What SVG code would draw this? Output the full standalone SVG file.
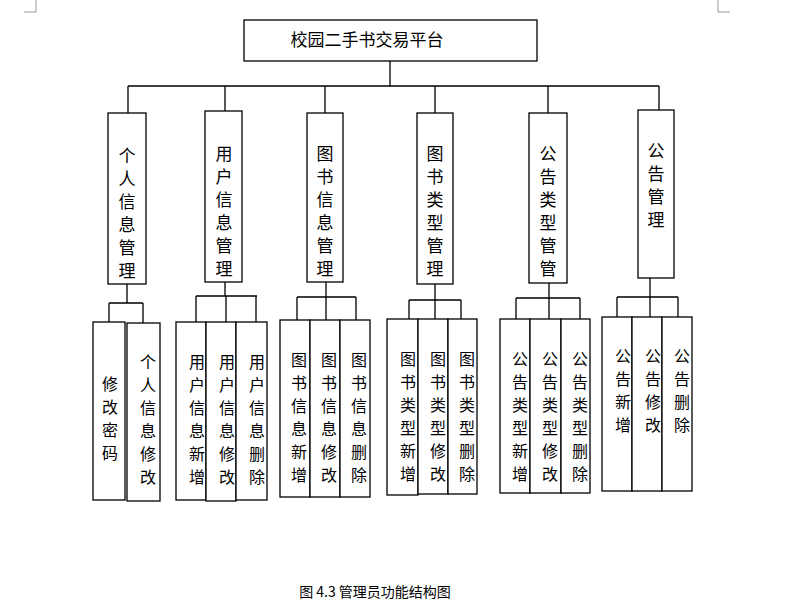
<svg xmlns="http://www.w3.org/2000/svg" width="803" height="615" viewBox="0 0 803 615">
<style>
rect{fill:#fff;stroke:#000;stroke-width:1.3}
line,path{stroke:#000;stroke-width:1.3;fill:none}
text{font-family:"Noto Sans CJK SC","Liberation Serif",serif;font-size:17px;fill:#000;text-anchor:middle}
.s{font-size:16px}
</style>
<rect width="803" height="615" style="stroke:none"/>
<g id="corners"><path d="M36 0V12H24 M718 0V12H730" style="stroke:#999;stroke-width:1"/></g>
<g id="connectors">
<path d="M390 61V86 M128 86H659 M128 86V113 M225 86V111 M325 86V113 M435 86V113 M548 86V113 M659 86V110"/>
<path d="M127 284V303 M109 303H143 M109 303V322 M143 303V323"/>
<path d="M225 282V296 M196 296H257 M196 296V322 M226 296V322 M256 296V322"/>
<path d="M326 282V297 M297 297H356 M297 297V320 M326 297V320 M356 297V320"/>
<path d="M435 284V300 M409 300H461 M409 300V319 M435 300V319 M461 300V319"/>
<path d="M549 283V298 M516 298H580 M516 298V319 M549 298V319 M580 298V319"/>
<path d="M650 278V297 M617 297H678 M617 297V317 M650 297V317 M678 297V317"/>
</g>
<g id="root"><rect x="244" y="20" width="293" height="41"/><text x="367" y="46">校园二手书交易平台</text></g>
<g id="m1"><rect x="108" y="113" width="38" height="171"/><text x="127"><tspan x="127" y="162">个</tspan><tspan x="127" y="185">人</tspan><tspan x="127" y="208">信</tspan><tspan x="127" y="231">息</tspan><tspan x="127" y="254">管</tspan><tspan x="127" y="277">理</tspan></text></g>
<g id="m2"><rect x="205" y="111" width="37" height="171"/><text><tspan x="224" y="160">用</tspan><tspan x="224" y="183">户</tspan><tspan x="224" y="206">信</tspan><tspan x="224" y="229">息</tspan><tspan x="224" y="252">管</tspan><tspan x="224" y="275">理</tspan></text></g>
<g id="m3"><rect x="307" y="113" width="36" height="169"/><text><tspan x="325" y="160">图</tspan><tspan x="325" y="183">书</tspan><tspan x="325" y="206">信</tspan><tspan x="325" y="229">息</tspan><tspan x="325" y="252">管</tspan><tspan x="325" y="275">理</tspan></text></g>
<g id="m4"><rect x="417" y="113" width="36" height="171"/><text><tspan x="435" y="160">图</tspan><tspan x="435" y="183">书</tspan><tspan x="435" y="206">类</tspan><tspan x="435" y="229">型</tspan><tspan x="435" y="252">管</tspan><tspan x="435" y="275">理</tspan></text></g>
<g id="m5"><rect x="529" y="113" width="38" height="170"/><text><tspan x="548" y="160">公</tspan><tspan x="548" y="183">告</tspan><tspan x="548" y="206">类</tspan><tspan x="548" y="229">型</tspan><tspan x="548" y="252">管</tspan><tspan x="548" y="275">管</tspan></text></g>
<g id="m6"><rect x="638" y="110" width="36" height="168"/><text><tspan x="656" y="157">公</tspan><tspan x="656" y="180">告</tspan><tspan x="656" y="203">管</tspan><tspan x="656" y="226">理</tspan></text></g>
<g id="l1a"><rect x="93" y="322" width="32" height="178"/><text class="s"><tspan x="110" y="390">修</tspan><tspan x="110" y="413">改</tspan><tspan x="110" y="436">密</tspan><tspan x="110" y="459">码</tspan></text></g>
<g id="l1b"><rect x="127" y="323" width="33" height="178"/><text class="s"><tspan x="148" y="368">个</tspan><tspan x="148" y="391">人</tspan><tspan x="148" y="414">信</tspan><tspan x="148" y="437">息</tspan><tspan x="148" y="460">修</tspan><tspan x="148" y="483">改</tspan></text></g>
<g id="l2a"><rect x="176" y="322" width="30" height="178"/><text class="s"><tspan x="197" y="368">用</tspan><tspan x="197" y="391">户</tspan><tspan x="197" y="414">信</tspan><tspan x="197" y="437">息</tspan><tspan x="197" y="460">新</tspan><tspan x="197" y="483">增</tspan></text></g>
<g id="l2b"><rect x="206" y="322" width="30" height="179"/><text class="s"><tspan x="227" y="368">用</tspan><tspan x="227" y="391">户</tspan><tspan x="227" y="414">信</tspan><tspan x="227" y="437">息</tspan><tspan x="227" y="460">修</tspan><tspan x="227" y="483">改</tspan></text></g>
<g id="l2c"><rect x="236" y="322" width="31" height="178"/><text class="s"><tspan x="257" y="368">用</tspan><tspan x="257" y="391">户</tspan><tspan x="257" y="414">信</tspan><tspan x="257" y="437">息</tspan><tspan x="257" y="460">删</tspan><tspan x="257" y="483">除</tspan></text></g>
<g id="l3a"><rect x="280" y="320" width="30" height="177"/><text class="s"><tspan x="299" y="366">图</tspan><tspan x="299" y="389">书</tspan><tspan x="299" y="412">信</tspan><tspan x="299" y="435">息</tspan><tspan x="299" y="458">新</tspan><tspan x="299" y="481">增</tspan></text></g>
<g id="l3b"><rect x="310" y="320" width="30" height="177"/><text class="s"><tspan x="329" y="366">图</tspan><tspan x="329" y="389">书</tspan><tspan x="329" y="412">信</tspan><tspan x="329" y="435">息</tspan><tspan x="329" y="458">修</tspan><tspan x="329" y="481">改</tspan></text></g>
<g id="l3c"><rect x="340" y="320" width="30" height="177"/><text class="s"><tspan x="359" y="366">图</tspan><tspan x="359" y="389">书</tspan><tspan x="359" y="412">信</tspan><tspan x="359" y="435">息</tspan><tspan x="359" y="458">删</tspan><tspan x="359" y="481">除</tspan></text></g>
<g id="l4a"><rect x="387" y="319" width="31" height="176"/><text class="s"><tspan x="408" y="365">图</tspan><tspan x="408" y="388">书</tspan><tspan x="408" y="411">类</tspan><tspan x="408" y="434">型</tspan><tspan x="408" y="457">新</tspan><tspan x="408" y="480">增</tspan></text></g>
<g id="l4b"><rect x="418" y="319" width="30" height="175"/><text class="s"><tspan x="438" y="365">图</tspan><tspan x="438" y="388">书</tspan><tspan x="438" y="411">类</tspan><tspan x="438" y="434">型</tspan><tspan x="438" y="457">修</tspan><tspan x="438" y="480">改</tspan></text></g>
<g id="l4c"><rect x="448" y="319" width="29" height="175"/><text class="s"><tspan x="467" y="365">图</tspan><tspan x="467" y="388">书</tspan><tspan x="467" y="411">类</tspan><tspan x="467" y="434">型</tspan><tspan x="467" y="457">删</tspan><tspan x="467" y="480">除</tspan></text></g>
<g id="l5a"><rect x="500" y="319" width="30" height="174"/><text class="s"><tspan x="520" y="365">公</tspan><tspan x="520" y="388">告</tspan><tspan x="520" y="411">类</tspan><tspan x="520" y="434">型</tspan><tspan x="520" y="457">新</tspan><tspan x="520" y="480">增</tspan></text></g>
<g id="l5b"><rect x="530" y="319" width="31" height="174"/><text class="s"><tspan x="550" y="365">公</tspan><tspan x="550" y="388">告</tspan><tspan x="550" y="411">类</tspan><tspan x="550" y="434">型</tspan><tspan x="550" y="457">修</tspan><tspan x="550" y="480">改</tspan></text></g>
<g id="l5c"><rect x="561" y="319" width="29" height="174"/><text class="s"><tspan x="580" y="365">公</tspan><tspan x="580" y="388">告</tspan><tspan x="580" y="411">类</tspan><tspan x="580" y="434">型</tspan><tspan x="580" y="457">删</tspan><tspan x="580" y="480">除</tspan></text></g>
<g id="l6a"><rect x="602" y="317" width="30" height="174"/><text class="s"><tspan x="623" y="362">公</tspan><tspan x="623" y="385">告</tspan><tspan x="623" y="408">新</tspan><tspan x="623" y="431">增</tspan></text></g>
<g id="l6b"><rect x="632" y="317" width="30" height="174"/><text class="s"><tspan x="653" y="362">公</tspan><tspan x="653" y="385">告</tspan><tspan x="653" y="408">修</tspan><tspan x="653" y="431">改</tspan></text></g>
<g id="l6c"><rect x="662" y="317" width="30" height="174"/><text class="s"><tspan x="682" y="362">公</tspan><tspan x="682" y="385">告</tspan><tspan x="682" y="408">删</tspan><tspan x="682" y="431">除</tspan></text></g>
<text x="375" y="597" style="font-size:14px">图 4.3  管理员功能结构图</text>
</svg>
